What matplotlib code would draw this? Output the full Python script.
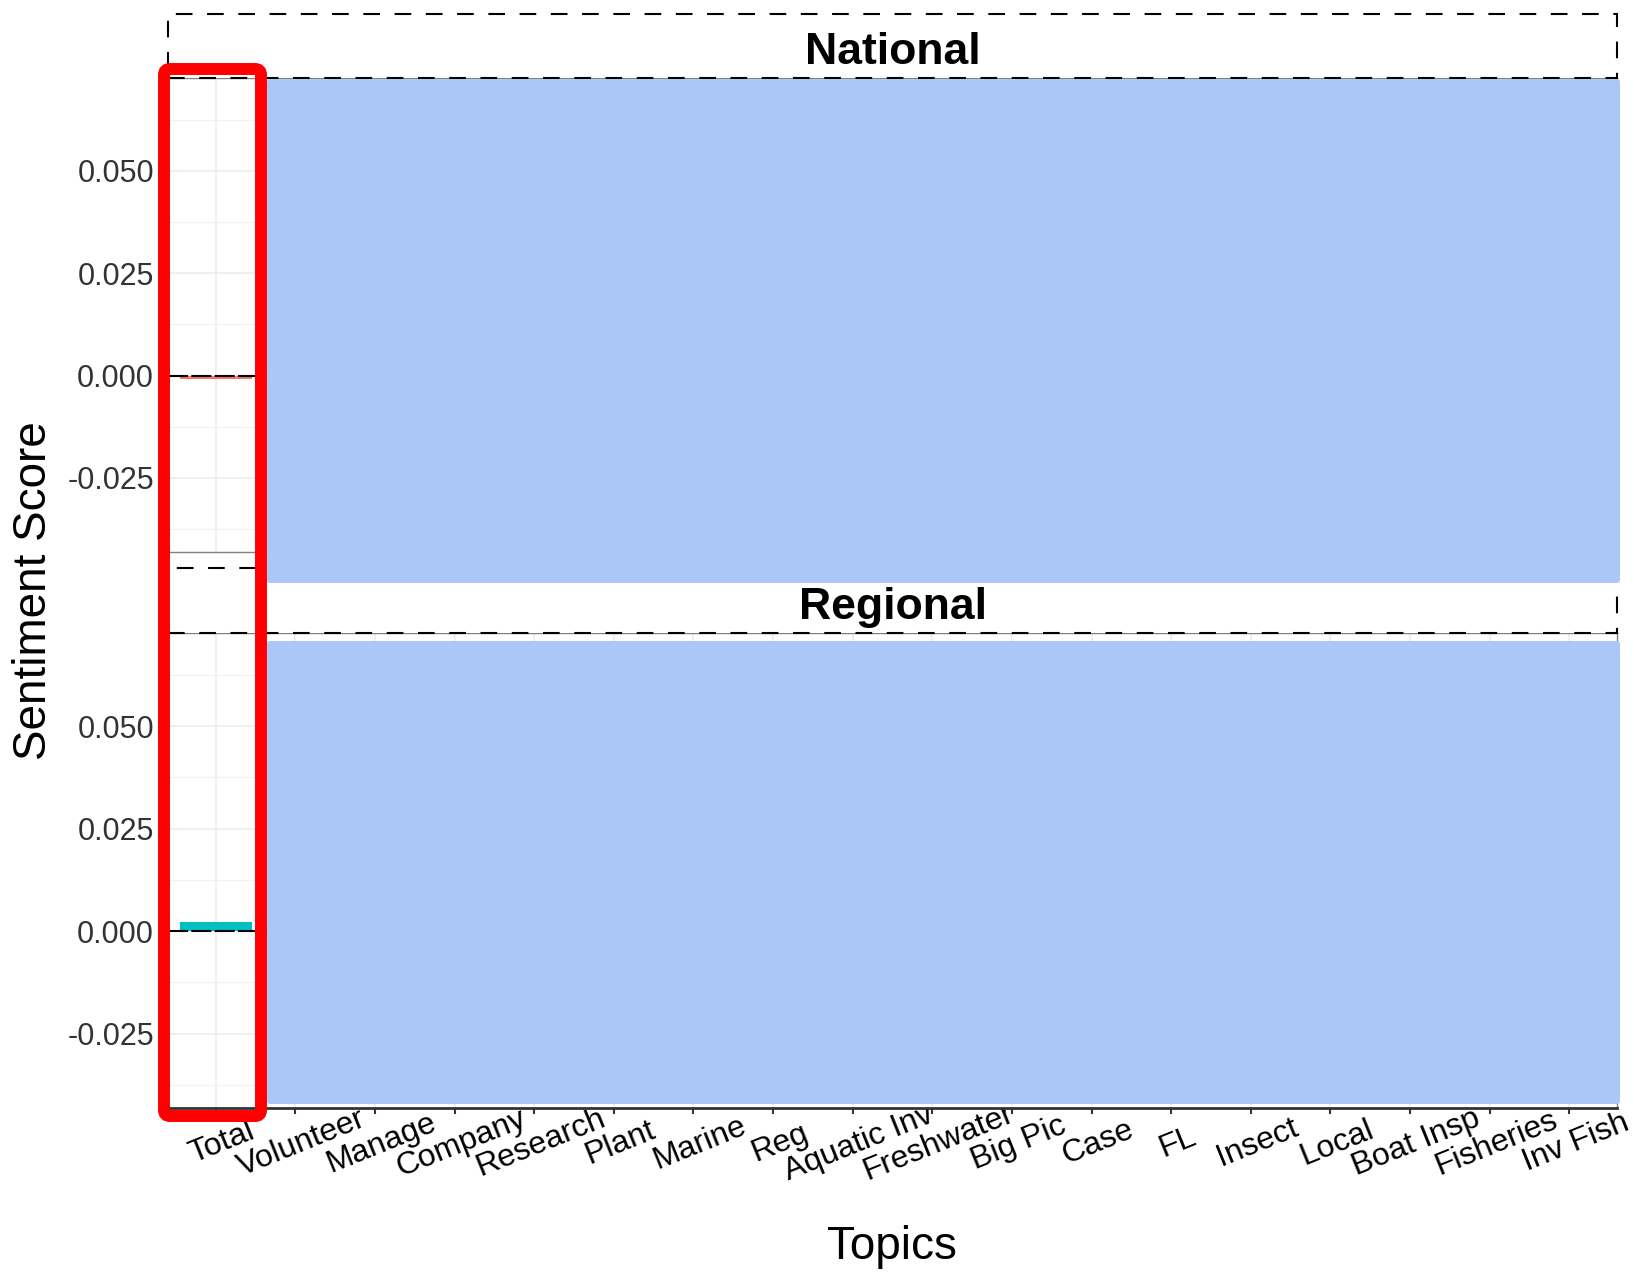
import matplotlib
matplotlib.use("Agg")
import matplotlib.pyplot as plt
import numpy as np
from matplotlib.patches import Rectangle, FancyBboxPatch
from matplotlib import transforms

plt.rcParams['font.family'] = ['Liberation Sans', 'DejaVu Sans']

# categories along x
topics = ["Total", "Volunteer", "Manage", "Company", "Research", "Plant", "Marine",
          "Reg", "Aquatic Inv", "Freshwater", "Big Pic", "Case", "FL", "Insect",
          "Local", "Boat Insp", "Fisheries", "Inv Fish"]
# only the Total bar is visible, the rest is covered in the picture
national = [-0.0008] + [np.nan] * 17
regional = [0.0022] + [np.nan] * 17
panels = ["National", "Regional"]
yticks = [-0.025, 0.000, 0.025, 0.050]
ylim = (-0.0431, 0.0727)

W, H = 1634, 1272
fig = plt.figure(figsize=(W / 100, H / 100), dpi=100)


def fx(x):
    return x / W


def fy(y):
    return 1 - y / H


def inch(x, y):
    return x / 100, (H - y) / 100


# panel boxes in pixels (left, top, right, bottom)
boxes = [(168, 78, 1617, 552), (168, 633, 1617, 1108)]
strips = [(168, 14, 1617, 78), (168, 568, 1617, 633)]

xs = np.arange(1, len(topics) + 1)
axes = []
for i, (vals, box) in enumerate(zip([national, regional], boxes)):
    l, t, r, b = box
    ax = fig.add_axes([fx(l), fy(b), fx(r) - fx(l), fy(t) - fy(b)])
    v = np.array(vals)
    cols = ['#F8766D' if (not np.isnan(a) and a < 0) else '#00BFC4' for a in v]
    ax.bar(xs, np.nan_to_num(v), width=0.9, color=cols, zorder=2)
    ax.axhline(0, color='black', lw=1.5, ls=(0, (9.6, 1.6)), zorder=3)
    ax.set_xlim(0.4, len(topics) + 0.6)
    ax.set_ylim(*ylim)
    ax.set_yticks(yticks)
    ax.set_yticklabels(["%.3f" % t for t in yticks])
    ax.set_yticks(np.arange(-0.0375, 0.07, 0.025), minor=True)
    ax.set_xticks(xs)
    ax.grid(True, which='major', color='#ebebeb', lw=1.1, zorder=0)
    ax.grid(True, which='minor', axis='y', color='#f2f2f2', lw=0.8, zorder=0)
    ax.set_axisbelow(True)
    ax.tick_params(axis='y', labelsize=22, labelcolor='#333333', length=4,
                   width=1, color='#333333', pad=6, which='major')
    ax.tick_params(axis='y', which='minor', length=0)
    ax.tick_params(axis='x', labelbottom=False, length=4 if i == 1 else 0,
                   width=1.5, color='#333333')
    for s in ax.spines.values():
        s.set_color('#7f7f7f')
        s.set_linewidth(1)
    if i == 1:
        ax.spines['bottom'].set_color('#333333')
        ax.spines['bottom'].set_linewidth(2)
    axes.append(ax)

# x tick labels under the panel (partly hidden by the panel itself)
tr = transforms.blended_transform_factory(axes[1].transData, fig.transFigure)
for x, lab in zip(xs, topics):
    fig.text(x + 0.08, fy(1143), lab, transform=tr, rotation=22, ha='center',
             va='center', fontsize=23, color='black', zorder=-1)

# strips
for (l, t, r, b), name in zip(strips, panels):
    x0, y0 = inch(l, b)
    x1, y1 = inch(r, t)
    fig.add_artist(Rectangle((x0, y0), x1 - x0, y1 - y0, transform=fig.dpi_scale_trans,
                             facecolor='white', edgecolor='black', lw=1.5,
                             ls=(0, (8, 7)), zorder=4))
    fig.text(fx((l + r) / 2), fy((t + b) / 2 + 7), name, ha='center', va='center',
             fontsize=32, fontweight='bold', color='black', zorder=5)

# blue cover boxes
for (t, b) in [(79, 583), (641, 1104)]:
    x0, y0 = inch(267, b)
    x1, y1 = inch(1620, t)
    fig.add_artist(FancyBboxPatch((x0, y0), x1 - x0, y1 - y0,
                                  boxstyle="round,pad=0,rounding_size=0.03",
                                  transform=fig.dpi_scale_trans,
                                  facecolor='#aac7f8', edgecolor='none', zorder=6))

# red highlight box
x0, y0 = inch(164, 1116)
x1, y1 = inch(261, 69)
fig.add_artist(FancyBboxPatch((x0, y0), x1 - x0, y1 - y0,
                              boxstyle="round,pad=0,rounding_size=0.06",
                              transform=fig.dpi_scale_trans,
                              facecolor='none', edgecolor='#ff0000', lw=8.6, zorder=7))

fig.text(fx(34), fy(591), "Sentiment Score", rotation=90, ha='center', va='center',
         fontsize=33, color='black')
fig.text(fx(892), fy(1247), "Topics", ha='center', va='center', fontsize=33,
         color='black')

fig.savefig("out.png", dpi=100)
